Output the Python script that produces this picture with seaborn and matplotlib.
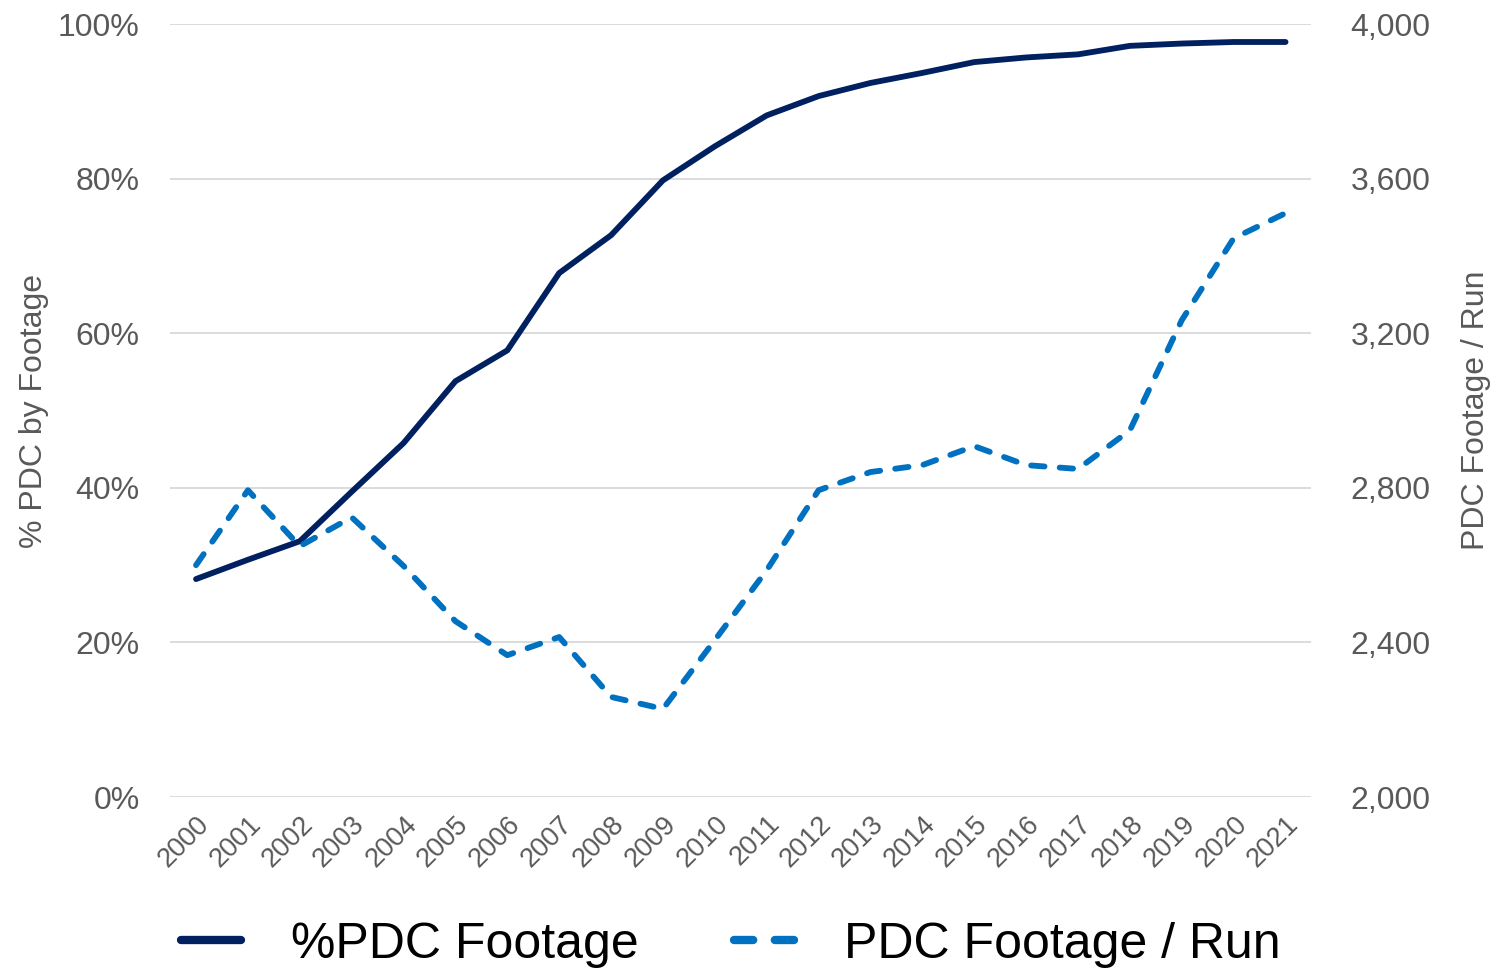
"""PDC share of footage and PDC footage per run, 2000-2021."""

import matplotlib.pyplot as plt
import matplotlib.ticker as mticker
import pandas as pd
import seaborn as sns

years = list(range(2000, 2022))
pdc_share = [28.2, 30.7, 33.1, 39.5, 45.8, 53.8, 57.8, 67.8, 72.7, 79.8, 84.2,
             88.2, 90.7, 92.4, 93.7, 95.1, 95.7, 96.1, 97.2, 97.5, 97.7, 97.7]
footage_per_run = [2600, 2794, 2649, 2724, 2598, 2455, 2367, 2414, 2259, 2228, 2406,
                   2587, 2794, 2841, 2859, 2908, 2859, 2849, 2949, 3234, 3446, 3511]

NAVY = "#002060"
BLUE = "#0070C0"
GREY = "#595959"

sns.set_style("white")
plt.rcParams["font.family"] = ["Liberation Sans", "DejaVu Sans"]

df = pd.DataFrame({"year": years, "share": pdc_share, "per_run": footage_per_run})

fig = plt.figure(figsize=(14.92, 9.69), dpi=100)
ax = fig.add_axes([0.114, 0.1775, 0.765, 0.7975])
ax2 = ax.twinx()

sns.lineplot(data=df, x="year", y="share", ax=ax, color=NAVY, linewidth=4.2,
             label="%PDC Footage", legend=False)
sns.lineplot(data=df, x="year", y="per_run", ax=ax2, color=BLUE, linewidth=4.2,
             label="PDC Footage / Run", legend=False)
ax.lines[0].set_solid_capstyle("round")
dashed = ax2.lines[0]
dashed.set_dashes((2.3, 2.6))
dashed.set_dash_capstyle("round")

ax.set_xlim(1999.5, 2021.5)
ax.set_ylim(0, 100)
ax2.set_ylim(2000, 4000)
ax.set_yticks(range(0, 101, 20))
ax2.set_yticks(range(2000, 4001, 400))
ax.yaxis.set_major_formatter(mticker.FuncFormatter(lambda v, _: f"{v:.0f}%"))
ax2.yaxis.set_major_formatter(mticker.FuncFormatter(lambda v, _: f"{v:,.0f}"))
ax.set_xticks(years)
ax.set_xticklabels([str(y) for y in years], rotation=45, ha="right",
                   rotation_mode="anchor", fontsize=19.5, color=GREY)

ax.grid(axis="y", color="#D9D9D9", linewidth=1.3)
ax.set_axisbelow(True)
for a in (ax, ax2):
    for s in a.spines.values():
        s.set_visible(False)
ax.tick_params(axis="y", length=0, pad=22, labelsize=23, labelcolor=GREY)
ax.tick_params(axis="x", length=0, pad=10)
ax2.tick_params(axis="y", length=0, pad=28, labelsize=23, labelcolor=GREY)

ax.set_xlabel("")
ax.set_ylabel("% PDC by Footage", fontsize=23, color=GREY, labelpad=6)
ax2.set_ylabel("PDC Footage / Run", fontsize=23, color=GREY, labelpad=22)

handles = ax.lines[:1] + ax2.lines[:1]
leg = fig.legend(handles, ["%PDC Footage", "PDC Footage / Run"], loc="lower center",
                 bbox_to_anchor=(0.49, -0.045), ncol=2, frameon=False, fontsize=36,
                 labelcolor="black", handlelength=1.2, handletextpad=1.0,
                 columnspacing=1.9)
for h in leg.legend_handles:
    h.set_linewidth(6)

fig.savefig("out.png", dpi=100)
